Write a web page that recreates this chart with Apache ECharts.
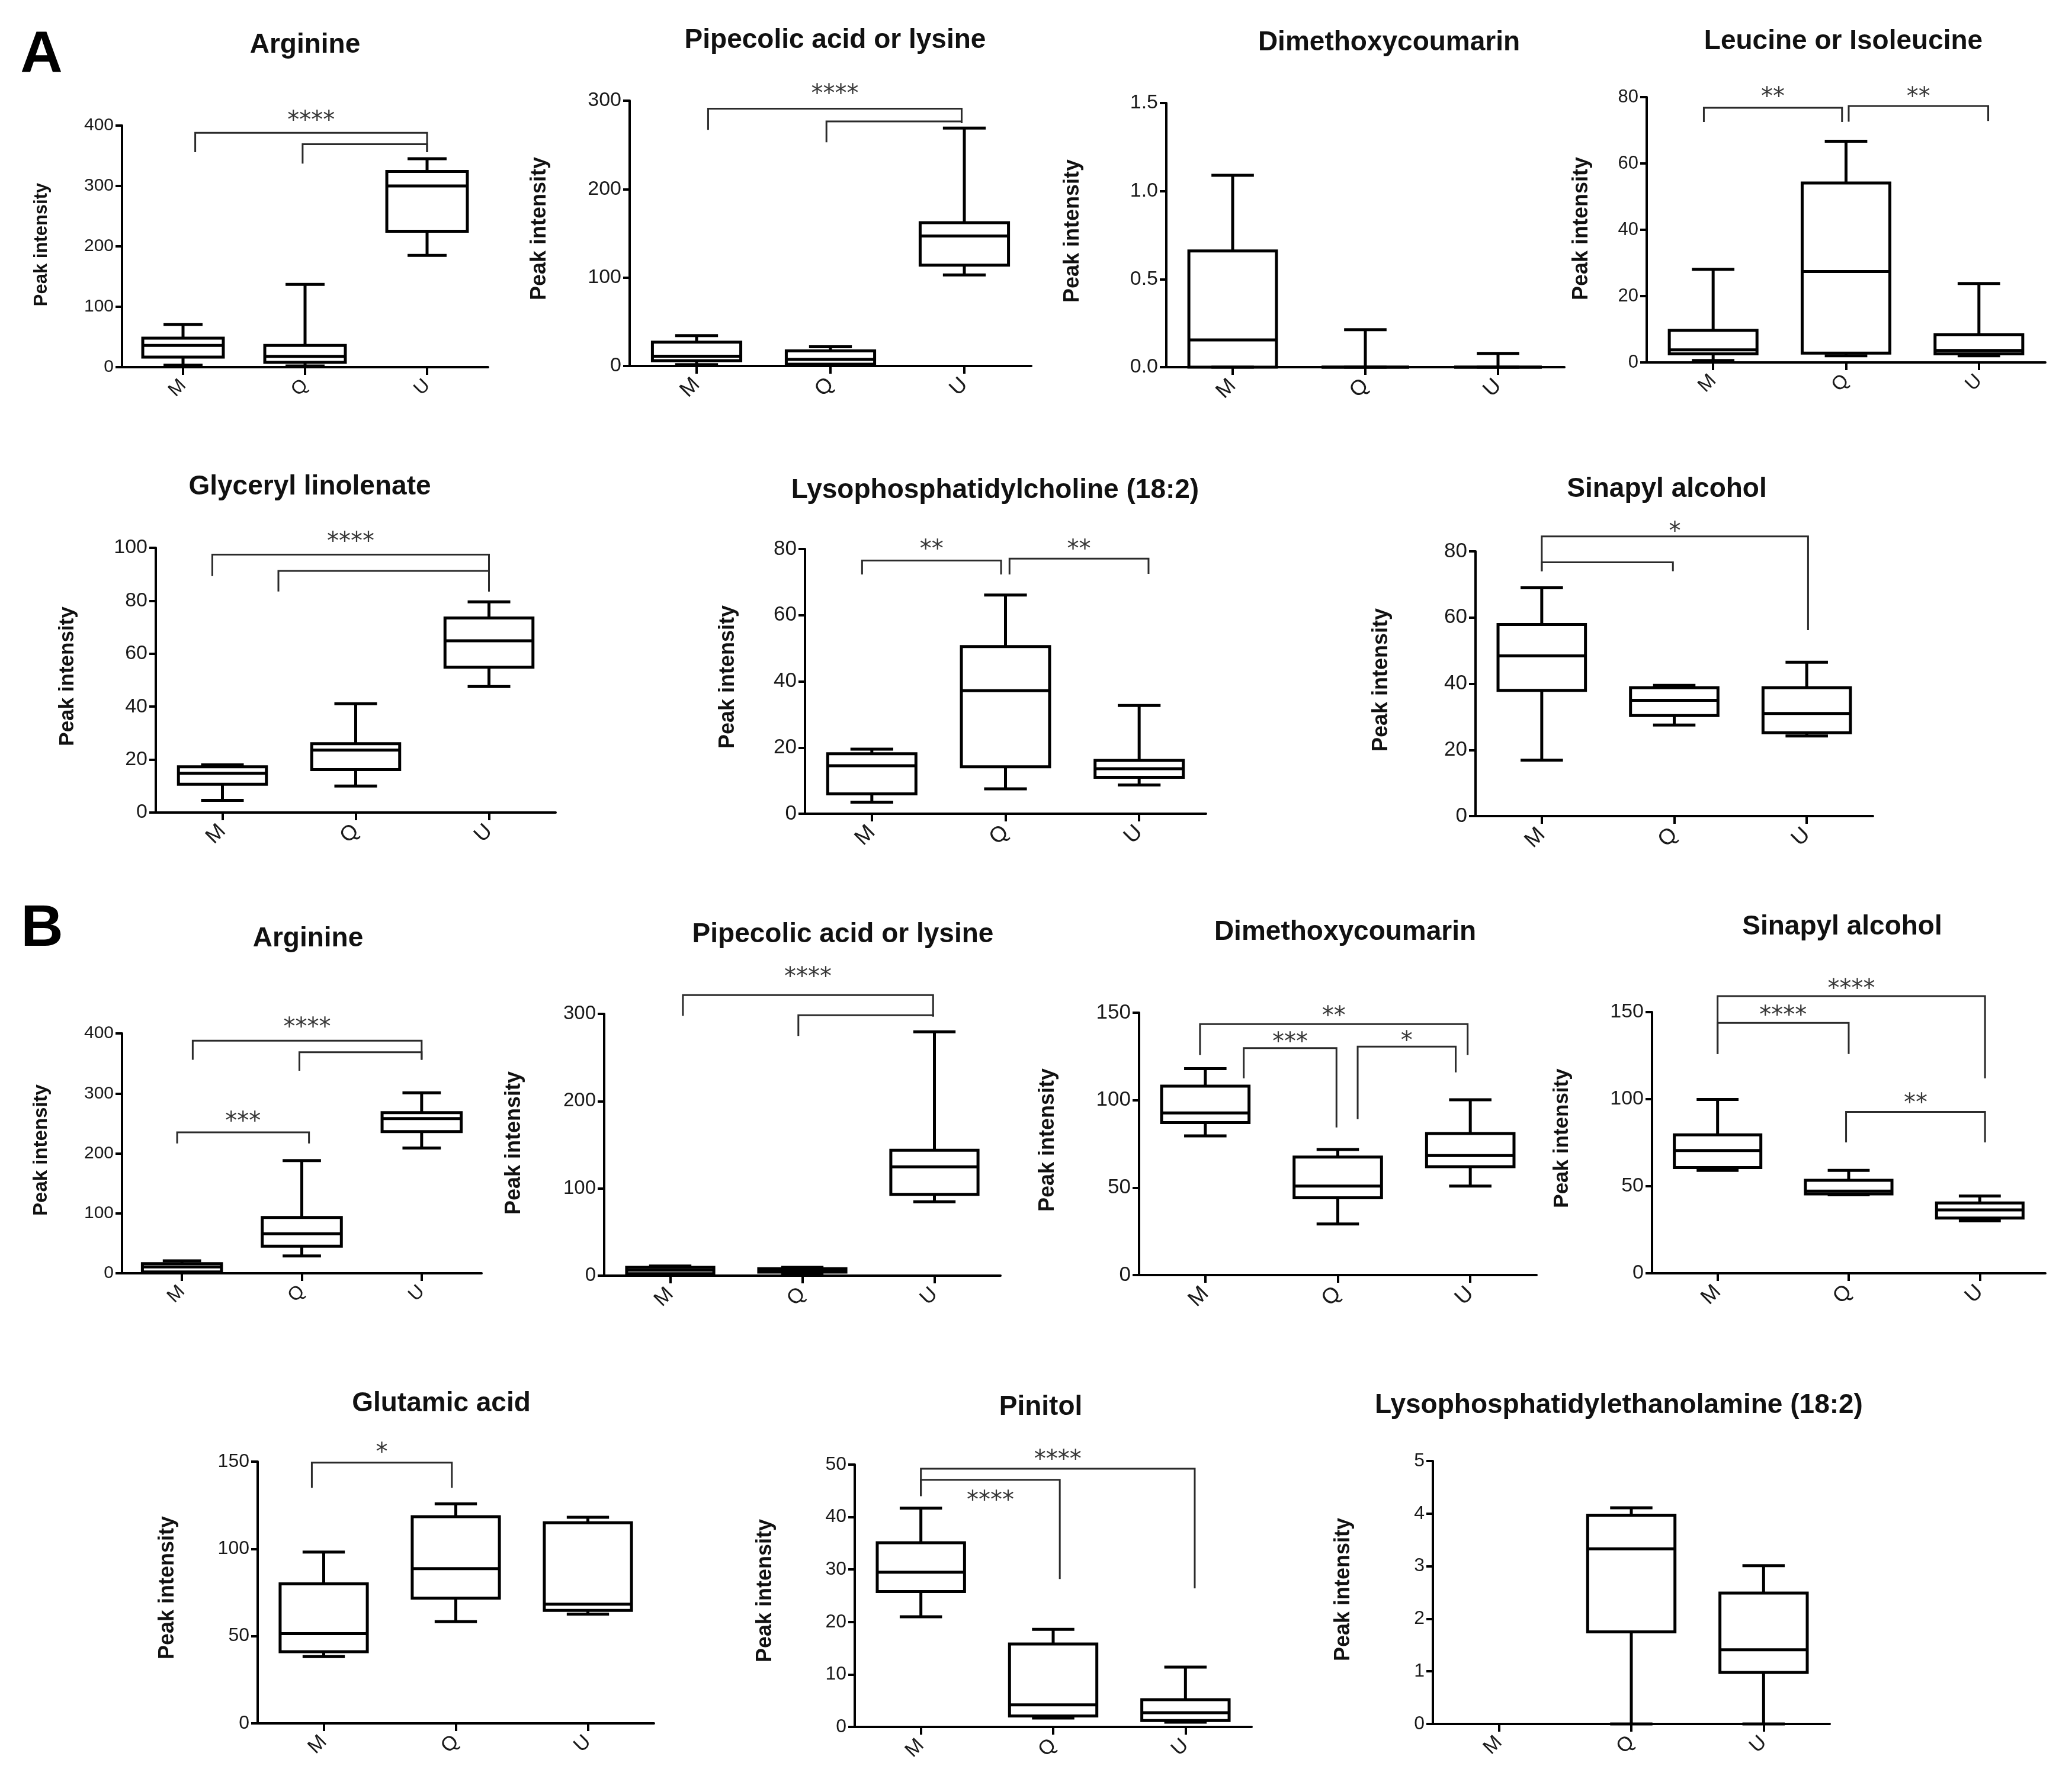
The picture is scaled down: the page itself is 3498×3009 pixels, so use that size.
<!DOCTYPE html>
<html><head><meta charset="utf-8">
<script src="https://cdn.jsdelivr.net/npm/echarts@6/dist/echarts.min.js"></script>
<style>html,body{margin:0;padding:0;background:#fff}#c{width:3498px;height:3009px}</style>
</head><body><div id="c"></div>
<script>
const groups = ['M', 'Q', 'U'];

// Box values per group: [min, Q1, median, Q3, max]
const A_arginine    = [[3.5, 16.6, 36, 48, 70.8], [2, 8, 18, 36, 137], [185, 225, 300, 324, 345]];
const A_pipecolic   = [[1.5, 6, 11, 27, 34.3], [0.6, 2, 7.5, 17, 21.8], [103, 114, 147, 162, 269]];
const A_dimethoxy   = [[0, 0, 0.155, 0.66, 1.09], [0, 0, 0, 0, 0.213], [0, 0, 0, 0, 0.078]];
const A_leucine     = [[0.6, 2.6, 3.8, 9.7, 28.1], [2.0, 2.8, 27.4, 54.1, 66.7], [2.0, 2.6, 3.6, 8.4, 23.8]];
const A_glyceryl    = [[4.6, 10.7, 14.8, 17.3, 18.0], [10.0, 16.2, 23.6, 26.0, 41.1], [47.6, 54.9, 64.9, 73.5, 79.6]];
const A_lysoPC      = [[3.5, 6.0, 14.5, 18.1, 19.5], [7.5, 14.2, 37.2, 50.5, 66.1], [8.7, 11.0, 13.6, 16.1, 32.7]];
const A_sinapyl     = [[16.9, 38.0, 48.4, 57.9, 69.0], [27.5, 30.4, 35.0, 38.8, 39.5], [24.2, 25.2, 31.0, 38.8, 46.5]];
const B_arginine    = [[1, 2.3, 10.6, 16.1, 20.7], [29, 45.2, 65.9, 93.1, 188], [208.8, 236.4, 258, 268, 301]];
const B_pipecolic   = [[1.6, 2.2, 6.3, 9.5, 11], [2.2, 4.1, 6, 7.9, 9.5], [84.6, 93.2, 124.7, 143.7, 279.5]];
const B_dimethoxy   = [[79.6, 87.2, 92.7, 108, 118], [29.2, 44.2, 50.9, 67.5, 71.8], [50.9, 62, 68.3, 80.9, 100.2]];
const B_sinapyl     = [[59.1, 60.7, 70.5, 79.5, 99.8], [45.1, 45.6, 47.2, 53.4, 59.1], [30.1, 31.7, 36.4, 40.4, 44.4]];
const B_glutamic    = [[38.3, 41.1, 51.4, 80, 98.2], [58.3, 71.8, 88.7, 118.4, 125.8], [62.6, 64.7, 68.3, 115, 118.1]];
const B_pinitol     = [[21.0, 25.8, 29.5, 35.1, 41.7], [1.7, 2.1, 4.2, 15.8, 18.6], [0.9, 1.2, 2.7, 5.2, 11.4]];
const B_lysoPE      = [null, [0, 1.75, 3.33, 3.97, 4.11], [0, 0.98, 1.41, 2.49, 3.01]];

// Significance brackets: [from (group units), to, bar level, left drop, right drop, label level, label]
const A_arginine_sig  = [[0.10, 2.0, 388, 356, 356, 415, '****'], [0.98, 2.0, 369, 337, 356, null, '']];
const A_pipecolic_sig = [[0.086, 1.98, 291, 267, 274.6, 312, '****'], [0.97, 1.98, 276.6, 253, 274.6, null, '']];
const A_leucine_sig   = [[-0.07, 0.97, 76.8, 72.5, 72.5, 81.4, '**'], [1.02, 2.07, 77.3, 72.6, 72.8, 81.4, '**']];
const A_glyceryl_sig  = [[-0.076, 2.0, 97.4, 89.3, 83.5, 104, '****'], [0.42, 2.0, 91.3, 83.5, 83.5, null, '']];
const A_lysoPC_sig    = [[-0.073, 0.967, 76.5, 72.3, 72.3, 81.2, '**'], [1.03, 2.07, 77.1, 72.3, 72.5, 81.2, '**']];
const A_sinapyl_sig   = [[0, 2.01, 84.5, 74.0, 56.2, 87.2, '*'], [0, 0.99, 76.7, 74.0, 74.0, null, '']];
const B_arginine_sig  = [[0.09, 2.0, 388, 356, 356, 417, '****'], [0.98, 2.0, 368.7, 337.8, 356, null, ''], [-0.04, 1.06, 235, 216.6, 216.6, 260, '***']];
const B_pipecolic_sig = [[0.096, 1.99, 321.5, 297.8, 297, 347.4, '****'], [0.97, 1.99, 298.4, 274.7, 297, null, '']];
const B_dimethoxy_sig = [[-0.04, 1.98, 143.5, 125.9, 125.9, 150.6, '**'], [0.29, 0.99, 129.8, 112.5, 84.4, 135.6, '***'], [1.15, 1.89, 130.6, 89.1, 115.9, 136.1, '*']];
const B_sinapyl_sig   = [[0, 2.04, 159.2, 125.9, 112, 165.9, '****'], [0, 1.0, 143.8, 125.9, 125.9, 150.5, '****'], [0.98, 2.04, 92.7, 75.2, 75.2, 100.3, '**']];
const B_glutamic_sig  = [[-0.09, 0.97, 149.4, 135, 135, 157.7, '*']];
const B_pinitol_sig   = [[0, 2.07, 49.2, 44, 26.4, 51.7, '****'], [0, 1.05, 47.1, 44, 28.2, 43.9, '****']];

const titles = ['Arginine', 'Pipecolic acid or lysine', 'Dimethoxycoumarin', 'Leucine or Isoleucine',
  'Glyceryl linolenate', 'Lysophosphatidylcholine (18:2)', 'Sinapyl alcohol',
  'Arginine', 'Pipecolic acid or lysine', 'Dimethoxycoumarin', 'Sinapyl alcohol',
  'Glutamic acid', 'Pinitol', 'Lysophosphatidylethanolamine (18:2)'];
const yName = 'Peak intensity';
const yMax = [400, 300, 1.5, 80, 100, 80, 80, 400, 300, 150, 150, 150, 50, 5];
const yStep = [100, 100, 0.5, 20, 20, 20, 20, 100, 100, 50, 50, 50, 10, 1];
const values = [A_arginine, A_pipecolic, A_dimethoxy, A_leucine, A_glyceryl, A_lysoPC, A_sinapyl,
  B_arginine, B_pipecolic, B_dimethoxy, B_sinapyl, B_glutamic, B_pinitol, B_lysoPE];
const sigs = [A_arginine_sig, A_pipecolic_sig, null, A_leucine_sig, A_glyceryl_sig, A_lysoPC_sig, A_sinapyl_sig,
  B_arginine_sig, B_pipecolic_sig, B_dimethoxy_sig, B_sinapyl_sig, B_glutamic_sig, B_pinitol_sig, null];

// Layout (pixels): grid [left, top, width, height], title centre, y-name centre + size, tick font size
const layout = [
  {g: [206, 212, 618, 408],  t: [515, 76],    yl: [70, 413, 31],    fs: 30},
  {g: [1063, 170, 678, 448], t: [1410, 68],   yl: [911, 386, 36],   fs: 34},
  {g: [1969, 174, 672, 446], t: [2345, 72],   yl: [1811, 390, 36],  fs: 34},
  {g: [2780, 164, 673, 448], t: [3112, 70],   yl: [2670, 386, 36],  fs: 31},
  {g: [263, 925, 675, 447],  t: [523, 822],   yl: [114, 1142, 35],  fs: 34},
  {g: [1359, 927, 677, 447], t: [1680, 828],  yl: [1229, 1143, 36], fs: 35},
  {g: [2491, 931, 671, 447], t: [2814, 826],  yl: [2332, 1148, 36], fs: 35},
  {g: [206, 1745, 607, 405], t: [520, 1585],  yl: [70, 1942, 33],   fs: 30},
  {g: [1020, 1712, 669, 442],t: [1423, 1578], yl: [868, 1930, 36],  fs: 33},
  {g: [1923, 1710, 671, 443],t: [2271, 1574], yl: [1769, 1925, 36], fs: 35},
  {g: [2789, 1709, 664, 441],t: [3110, 1565], yl: [2637, 1922, 35], fs: 34},
  {g: [435, 2468, 669, 442], t: [745, 2370],  yl: [283, 2681, 36],  fs: 32},
  {g: [1443, 2473, 670, 443],t: [1757, 2376], yl: [1292, 2686, 36], fs: 32},
  {g: [2419, 2467, 670, 444],t: [2733, 2373], yl: [2268, 2684, 36], fs: 32}
];

const FONT = '"Liberation Sans", Arial, sans-serif';

function boxRender(params, api) {
  const k = api.value(0);
  const mn = api.value(1), q1 = api.value(2), md = api.value(3), q3 = api.value(4), mx = api.value(5);
  const x = api.coord([k, md])[0];
  const band = api.size([1, 0])[0];
  const bw = band * 0.66, cw = band * 0.32;
  const Y = v => api.coord([k, v])[1];
  const st = {stroke: '#000', lineWidth: 5, fill: 'none'};
  return {type: 'group', children: [
    {type: 'line', shape: {x1: x, y1: Y(mx), x2: x, y2: Y(q3)}, style: st},
    {type: 'line', shape: {x1: x, y1: Y(q1), x2: x, y2: Y(mn)}, style: st},
    {type: 'line', shape: {x1: x - cw / 2, y1: Y(mx), x2: x + cw / 2, y2: Y(mx)}, style: st},
    {type: 'line', shape: {x1: x - cw / 2, y1: Y(mn), x2: x + cw / 2, y2: Y(mn)}, style: st},
    {type: 'rect', shape: {x: x - bw / 2, y: Y(q3), width: bw, height: Y(q1) - Y(q3)}, style: {stroke: '#000', lineWidth: 5, fill: 'none', lineJoin: 'miter'}},
    {type: 'line', shape: {x1: x - bw / 2, y1: Y(md), x2: x + bw / 2, y2: Y(md)}, style: st}
  ]};
}

function makeSigRender(sig) {
  return function (params, api) {
    const b = sig[params.dataIndex];
    const x0 = api.coord([0, 0])[0];
    const band = api.size([1, 0])[0];
    const px1 = x0 + b[0] * band, px2 = x0 + b[1] * band;
    const Y = v => api.coord([0, v])[1];
    const children = [{
      type: 'polyline',
      shape: {points: [[px1, Y(b[3])], [px1, Y(b[2])], [px2, Y(b[2])], [px2, Y(b[4])]]},
      style: {stroke: '#2b2b2b', lineWidth: 3, fill: 'none'}
    }];
    if (b[5] !== null && b[6]) {
      children.push({
        type: 'text', x: (px1 + px2) / 2, y: Y(b[5]) + 9,
        style: {text: b[6], font: '40px "DejaVu Sans", sans-serif', fill: '#383838',
          align: 'center', verticalAlign: 'middle', textAlign: 'center', textVerticalAlign: 'middle'}
      });
    }
    return {type: 'group', children: children};
  };
}

const option = {animation: false, backgroundColor: '#fff', grid: [], xAxis: [], yAxis: [], series: [], graphic: {elements: []}};

layout.forEach((L, i) => {
  option.grid.push({left: L.g[0], top: L.g[1], width: L.g[2], height: L.g[3], containLabel: false});
  option.xAxis.push({
    gridIndex: i, type: 'category', data: groups, boundaryGap: true,
    axisLine: {show: true, lineStyle: {color: '#000', width: 4}},
    axisTick: {show: true, alignWithLabel: true, length: 13, lineStyle: {color: '#000', width: 4}},
    axisLabel: {rotate: 45, fontSize: L.fs + 2, color: '#1a1a1a', fontFamily: FONT, margin: 26},
    splitLine: {show: false}
  });
  const dec = yStep[i] < 1;
  option.yAxis.push({
    gridIndex: i, type: 'value', min: 0, max: yMax[i], interval: yStep[i],
    axisLine: {show: true, lineStyle: {color: '#000', width: 4}},
    axisTick: {show: true, length: 11, lineStyle: {color: '#000', width: 4}},
    axisLabel: {fontSize: L.fs, color: '#1a1a1a', fontFamily: FONT, margin: 14,
      formatter: v => dec ? v.toFixed(1) : String(v)},
    splitLine: {show: false}
  });
  const vals = values[i];
  option.series.push({
    type: 'custom', xAxisIndex: i, yAxisIndex: i, renderItem: boxRender,
    encode: {x: 0, y: [1, 2, 3, 4, 5]},
    data: vals.map((v, k) => v ? [k].concat(v) : null).filter(Boolean)
  });
  const sig = sigs[i];
  if (sig) {
    option.series.push({
      type: 'custom', xAxisIndex: i, yAxisIndex: i, renderItem: makeSigRender(sig), clip: false,
      data: sig.map(b => [0, b[2]])
    });
  }
  option.graphic.elements.push({
    type: 'text', x: L.t[0], y: L.t[1],
    style: {text: titles[i], font: 'bold 46px ' + FONT, fill: '#111',
      align: 'center', verticalAlign: 'middle', textAlign: 'center', textVerticalAlign: 'middle'}
  });
  option.graphic.elements.push({
    type: 'text', x: L.yl[0], y: L.yl[1], rotation: Math.PI / 2,
    style: {text: yName, font: 'bold ' + L.yl[2] + 'px ' + FONT, fill: '#111',
      align: 'center', verticalAlign: 'middle', textAlign: 'center', textVerticalAlign: 'middle'}
  });
});

option.graphic.elements.push({
  type: 'text', x: 70, y: 94,
  style: {text: 'A', font: 'bold 99px ' + FONT, fill: '#000', align: 'center', verticalAlign: 'middle', textAlign: 'center', textVerticalAlign: 'middle'}
});
option.graphic.elements.push({
  type: 'text', x: 71, y: 1570,
  style: {text: 'B', font: 'bold 99px ' + FONT, fill: '#000', align: 'center', verticalAlign: 'middle', textAlign: 'center', textVerticalAlign: 'middle'}
});

const chart = echarts.init(document.getElementById('c'), null, {renderer: 'canvas'});
chart.setOption(option);
</script>
</body></html>
